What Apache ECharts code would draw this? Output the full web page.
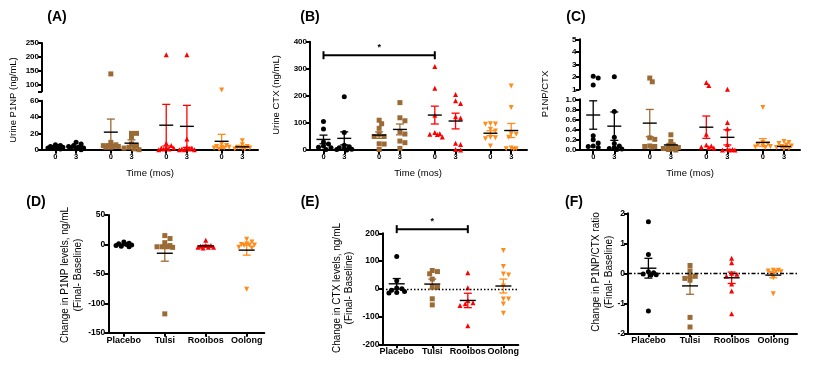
<!DOCTYPE html>
<html><head><meta charset="utf-8">
<script src="https://cdn.jsdelivr.net/npm/echarts@6/dist/echarts.min.js"></script>
<style>html,body{margin:0;padding:0;background:#fff;}#c{width:826px;height:371px;}</style>
</head><body><div id="c"></div>
<script>
// ---------------- DATA ----------------
const groups = ['Placebo', 'Tulsi', 'Rooibos', 'Oolong'];
const times = ['0', '3'];

// Panel A: Urine P1NP (ng/mL), rows = groups
const p1np0 = [[6,5,4,4,3,3,2,2,1],[138,9,6,5,5,4,4,3,3],[207,8,5,3,2,2,1,1,0],[80,7,5,4,3,3,2,2,1]];
const p1np3 = [[9,7,5,4,3,2,2,1,0],[20,20,15,7,5,3,2,1,0],[207,13,3,2,1,1,0,0,0],[11,6,4,3,2,2,1,1]];
const p1npMean0 = [3.3, 21.5, 30, 10.3];
const p1npSem0 = [0.6, 16, 25.5, 8.5];
const p1npMean3 = [3.5, 8, 28.6, 3.5];
const p1npSem3 = [1.0, 4, 25.7, 1.2];
const p1npUpperTicks = [100, 150, 200, 250];

// Panel B: Urine CTX (ng/mL)
const ctx0 = [[105,78,30,22,15,10,8,2],[110,97,80,58,50,50,23,22,2],[308,228,128,65,60,58,57,48],[97,96,95,77,70,47,45,42,15]];
const ctx3 = [[197,65,18,12,8,5,3,2,0],[175,119,108,68,59,33,27,6],[205,182,172,123,118,25,20,2,0],[236,157,60,58,47,7,5,5,3]];
const ctxMean0 = [39, 55, 129, 62];
const ctxSem0 = [16, 12, 33, 9];
const ctxMean3 = [43, 76, 107, 72];
const ctxSem3 = [24, 20, 29, 26];
const ctxSig = [0, 2, 350];   // from group (month 0) to group (month 0) at value, "*"

// Panel C: P1NP/CTX
const ratio0 = [[2.05,1.9,1.35,0.28,0.2,0.14,0.08,0.07,0.05],[1.9,1.6,0.24,0.21,0.08,0.07,0.07,0.06],[1.55,1.3,0.31,0.1,0.08,0.06,0.05,0.04],[0.84,0.15,0.12,0.1,0.08,0.07,0.06,0.05]];
const ratio3 = [[2.0,0.76,0.25,0.13,0.08,0.05,0.03,0.02,0.01],[0.3,0.17,0.1,0.08,0.05,0.03,0.02,0.01,0.0],[1.0,0.54,0.42,0.11,0.02,0.01,0.0,0.0,0.0],[0.17,0.15,0.13,0.1,0.08,0.07,0.05,0.03,0.02]];
const ratioMean0 = [0.69, 0.53, 0.45, 0.15];
const ratioSem0 = [0.28, 0.27, 0.22, 0.075];
const ratioMean3 = [0.47, 0.1, 0.25, 0.07];
const ratioSem3 = [0.28, 0.03, 0.15, 0.025];

// Panel D: change in P1NP
const dP1np = [[4,2,1,0,-1,-2,-3,-4],[15,10,3,-2,-4,-4,-4,-5,-118],[7,-2,-2,-3,-5,-5,-5,-6],[9,4,1,0,-1,-1,-2,-5,-6,-76]];
const dP1npMean = [-0.4, -15, -2.5, -9.7];
const dP1npSem = [1, 13.5, 1.3, 8.5];

// Panel E: change in CTX
const dCtx = [[116,29,3,0,-5,-10,-13,-15],[66,62,54,35,8,5,-36,-58],[58,4,-42,-50,-54,-60,-133],[138,80,53,50,10,-37,-37,-55,-88]];
const dCtxMean = [18, 17, -42, 10];
const dCtxSem = [19, 18, 26, 25];
const dCtxSig = [0, 2, 215];

// Panel F: change in P1NP/CTX ratio
const dRatio = [[1.72,0.63,0.05,0.02,-0.02,-0.05,-0.06,-1.26],[0.26,0.08,-0.08,-0.1,-0.17,-0.23,-1.47,-1.79],[0.5,0.35,0.0,-0.03,-0.09,-0.36,-0.59,-1.35],[0.1,0.1,0.08,0.05,0.05,0.0,-0.15,-0.68]];
const dRatioMean = [0.17, -0.42, -0.15, -0.06];
const dRatioSem = [0.33, 0.28, 0.19, 0.09];

// ---------------- STYLE / LAYOUT ----------------
const FONT = '"Liberation Sans", Arial, sans-serif';
const colors = ['#000000', '#9C6A35', '#FF0000', '#FF8C1A'];
const symbols = ['circle', 'rect', 'triangle', 'triangle'];
const symRot = [0, 0, 0, 180];
const symSize = [5, 5, 5, 5];
const PAIR = 2.68;
const TOPX = [-0.65, 9.8];

const L = {
  Aup: {l: 42, t: 43, w: 216, h: 48.3},
  Alo: {l: 42, t: 100.7, w: 216, h: 49},
  B: {l: 310, t: 41.7, w: 217, h: 108.3},
  Cup: {l: 579.5, t: 39.3, w: 220.5, h: 50},
  Clo: {l: 579.5, t: 99.3, w: 220.5, h: 50.7},
  D: {l: 108.3, t: 215, w: 156, h: 117.7, x: [-0.38, 3.43]},
  E: {l: 382.5, t: 233.3, w: 135.8, h: 111, x: [-0.40, 3.42]},
  F: {l: 628, t: 213.3, w: 169, h: 120, x: [-0.49, 3.57]}
};

const grids = [], xAxes = [], yAxes = [], series = [], graphics = [];

// horizontal spreading of overlapping points (scatter-dot-plot style), limited width
function swarm(values, cx, pxX, pxY, size, maxOff) {
  const idx = values.map((v, i) => i).sort((a, b) => values[b] - values[a]);
  const placed = [], out = [];
  const step = size * 0.5, need = size * 0.8;
  for (const i of idx) {
    const py = values[i] * pxY;
    let best = 0, bestD = -1;
    for (let n = 0; n < 60; n++) {
      const o = n === 0 ? 0 : (n % 2 === 1 ? 1 : -1) * Math.ceil(n / 2) * step;
      if (Math.abs(o) > maxOff) break;
      const d = placed.length ? Math.min(...placed.map(p => Math.hypot(p.x - o, p.y - py))) : 1e9;
      if (d >= need) { best = o; bestD = d; break; }
      if (d > bestD) { bestD = d; best = o; }
    }
    placed.push({x: best, y: py});
    out.push([cx + best / pxX, values[i]]);
  }
  return out;
}

function addGrid(g) {
  grids.push({left: g.l, top: g.t, width: g.w, height: g.h, containLabel: false, outerBoundsMode: 'none'});
  return grids.length - 1;
}

function xAxisCfg(gi, min, max, show, ticks, fn, fs) {
  return {type: 'value', gridIndex: gi, min, max, show, position: 'bottom',
    axisLine: {show: true, onZero: false, lineStyle: {color: '#000', width: 2}},
    axisTick: {show: true, length: 4, customValues: ticks, lineStyle: {color: '#000', width: 2}},
    axisLabel: {show: true, customValues: ticks, formatter: fn, fontSize: fs, fontWeight: 'bold', color: '#000', fontFamily: FONT, margin: 3},
    splitLine: {show: false}};
}
function yAxisCfg(gi, min, max, interval, fs, tickVals, labelVals, fmt) {
  const a = {type: 'value', gridIndex: gi, min, max, position: 'left',
    axisLine: {show: true, onZero: false, lineStyle: {color: '#000', width: 2}},
    axisTick: {show: true, length: 4, lineStyle: {color: '#000', width: 2}},
    axisLabel: {fontSize: fs, fontWeight: 'bold', color: '#000', fontFamily: FONT, margin: 3},
    splitLine: {show: false}};
  if (interval != null) a.interval = interval;
  if (tickVals) a.axisTick.customValues = tickVals;
  if (labelVals) a.axisLabel.customValues = labelVals;
  if (fmt) a.axisLabel.formatter = fmt;
  return a;
}

function meanSeries(gi, data, meanHalf, capHalf) {
  return {type: 'custom', xAxisIndex: gi, yAxisIndex: gi, silent: true, z: 5, clip: false,
    encode: {x: 0, y: 1},
    data,
    renderItem(params, api) {
      const x = api.value(0), m = api.value(1), s = api.value(2), c = colors[api.value(3)];
      const p = api.coord([x, m]), hi = api.coord([x, m + s]), lo = api.coord([x, m - s]);
      const st = {stroke: c, lineWidth: 1.3};
      return {type: 'group', children: [
        {type: 'line', shape: {x1: p[0], y1: hi[1], x2: p[0], y2: lo[1]}, style: st},
        {type: 'line', shape: {x1: p[0] - capHalf, y1: hi[1], x2: p[0] + capHalf, y2: hi[1]}, style: st},
        {type: 'line', shape: {x1: p[0] - capHalf, y1: lo[1], x2: p[0] + capHalf, y2: lo[1]}, style: st},
        {type: 'line', shape: {x1: p[0] - meanHalf, y1: p[1], x2: p[0] + meanHalf, y2: p[1]}, style: {stroke: '#000', lineWidth: 1.4}}
      ]};
    }};
}

function sigSeries(gi, x1, x2, y) {
  return {type: 'custom', xAxisIndex: gi, yAxisIndex: gi, silent: true, z: 6, clip: false,
    encode: {x: 0, y: 2}, data: [[x1, x2, y]],
    renderItem(params, api) {
      const a = api.coord([api.value(0), api.value(2)]), b = api.coord([api.value(1), api.value(2)]);
      const st = {stroke: '#000', lineWidth: 2};
      return {type: 'group', children: [
        {type: 'line', shape: {x1: a[0], y1: a[1], x2: b[0], y2: b[1]}, style: st},
        {type: 'line', shape: {x1: a[0], y1: a[1] - 4, x2: a[0], y2: a[1] + 4}, style: st},
        {type: 'line', shape: {x1: b[0], y1: b[1] - 4, x2: b[0], y2: b[1] + 4}, style: st},
        {type: 'text', style: {text: '*', x: (a[0] + b[0]) / 2, y: a[1] - 3, align: 'center', verticalAlign: 'bottom', fontSize: 9, fontWeight: 'bold', fontFamily: FONT, fill: '#000'}}
      ]};
    }};
}

function scatter(gi, data, g) {
  return {type: 'scatter', xAxisIndex: gi, yAxisIndex: gi, data, symbol: symbols[g], symbolSize: symSize[g],
    symbolRotate: symRot[g], itemStyle: {color: colors[g], opacity: 1}, silent: true, z: 3, clip: false};
}

// top panel tick positions
const topTicks = [], topTickText = [];
for (let g = 0; g < 4; g++) for (let t = 0; t < 2; t++) { topTicks.push(g * PAIR + t); topTickText.push(times[t]); }
const topFmt = v => { let bi = 0; topTicks.forEach((p, i) => { if (Math.abs(p - v) < Math.abs(topTicks[bi] - v)) bi = i; }); return topTickText[bi]; };
const botTicks = [0, 1, 2, 3];
const botFmt = v => groups[Math.round(v)];

function buildTop(lo, loY, up, upY, split, vals, means, sems) {
  const gLo = addGrid(lo);
  xAxes.push(xAxisCfg(gLo, TOPX[0], TOPX[1], true, topTicks, topFmt, 7.5));
  yAxes.push(loY.axis(gLo));
  let gUp = null;
  if (up) {
    gUp = addGrid(up);
    xAxes.push(xAxisCfg(gUp, TOPX[0], TOPX[1], false, topTicks, topFmt, 7.5));
    yAxes.push(upY.axis(gUp));
  }
  const pxX = lo.w / (TOPX[1] - TOPX[0]);
  const md = [];
  for (let t = 0; t < 2; t++) for (let g = 0; g < 4; g++) {
    const cx = g * PAIR + t;
    const v = vals[t][g];
    const low = v.filter(x => split == null || x < split);
    const hiV = split == null ? [] : v.filter(x => x >= split);
    series.push(scatter(gLo, swarm(low, cx, pxX, lo.h / (loY.max - loY.min), 5, 7.5), g));
    if (hiV.length) series.push(scatter(gUp, swarm(hiV, cx, pxX, up.h / (upY.max - upY.min), 5, 7.5), g));
    md.push([cx, means[t][g], sems[t][g], g]);
  }
  series.push(meanSeries(gLo, md, 7, 4));
  return gLo;
}

function buildBottom(box, yMin, yMax, yInt, vals, means, sems) {
  const gi = addGrid(box);
  xAxes.push(xAxisCfg(gi, box.x[0], box.x[1], true, botTicks, botFmt, 9));
  yAxes.push(yAxisCfg(gi, yMin, yMax, yInt, 8.5));
  const pxX = box.w / (box.x[1] - box.x[0]);
  const md = [];
  for (let g = 0; g < 4; g++) {
    series.push(scatter(gi, swarm(vals[g], g, pxX, box.h / (yMax - yMin), 5.2, 8.5), g));
    md.push([g, means[g], sems[g], g]);
  }
  series.push(meanSeries(gi, md, 8, 4));
  return gi;
}

// Panel A
buildTop(L.Alo, {min: 0, max: 60, axis: gi => yAxisCfg(gi, 0, 60, 20, 8)},
  L.Aup, {min: 75, max: 250, axis: gi => yAxisCfg(gi, 75, 250, null, 8, [75].concat(p1npUpperTicks), p1npUpperTicks)},
  60, [p1np0, p1np3], [p1npMean0, p1npMean3], [p1npSem0, p1npSem3]);
// Panel B
const gB = buildTop(L.B, {min: 0, max: 400, axis: gi => yAxisCfg(gi, 0, 400, 100, 8)}, null, null, null,
  [ctx0, ctx3], [ctxMean0, ctxMean3], [ctxSem0, ctxSem3]);
series.push(sigSeries(gB, ctxSig[0] * PAIR, ctxSig[1] * PAIR, ctxSig[2]));
// Panel C
buildTop(L.Clo, {min: 0, max: 1, axis: gi => yAxisCfg(gi, 0, 1, 0.2, 8, null, null, v => v.toFixed(1))},
  L.Cup, {min: 1, max: 5, axis: gi => yAxisCfg(gi, 1, 5, 1, 8)},
  1, [ratio0, ratio3], [ratioMean0, ratioMean3], [ratioSem0, ratioSem3]);
// Panel D
buildBottom(L.D, -150, 50, 50, dP1np, dP1npMean, dP1npSem);
// Panel E
const gE = buildBottom(L.E, -200, 200, 100, dCtx, dCtxMean, dCtxSem);
series.push(sigSeries(gE, dCtxSig[0], dCtxSig[1], dCtxSig[2]));
series.push({type: 'line', xAxisIndex: gE, yAxisIndex: gE, data: [], silent: true,
  markLine: {symbol: 'none', silent: true, label: {show: false}, animation: false,
    lineStyle: {color: '#000', width: 1.4, type: [1.5, 2]}, data: [{yAxis: 0}]}});
// Panel F
const gF = buildBottom(L.F, -2, 2, 1, dRatio, dRatioMean, dRatioSem);
series.push({type: 'line', xAxisIndex: gF, yAxisIndex: gF, data: [], silent: true,
  markLine: {symbol: 'none', silent: true, label: {show: false}, animation: false,
    lineStyle: {color: '#000', width: 1.3, type: [4, 2, 1.5, 2]}, data: [{yAxis: 0}]}});

// ---------------- TEXT ----------------
function txt(text, x, y, size, bold, rot, lh) {
  graphics.push({type: 'text', x, y, rotation: rot ? Math.PI / 2 : 0, silent: true,
    style: {text, fill: '#000', fontSize: size, fontWeight: bold ? 'bold' : 'normal', fontFamily: FONT,
      align: 'center', verticalAlign: 'middle', lineHeight: lh || size * 1.2}});
}
txt('(A)', 57, 17, 14, true); txt('(B)', 310, 17, 14, true); txt('(C)', 576, 17, 14, true);
txt('(D)', 36, 202, 14, true); txt('(E)', 310, 202, 14, true); txt('(F)', 574, 202, 14, true);
txt('Urine P1NP (ng/mL)', 13, 100, 9.5, false, true);
txt('Urine CTX (ng/mL)', 276, 95, 9.5, false, true);
txt('P1NP/CTX', 545, 94, 9.5, false, true);
txt('Time (mos)', 150, 173.5, 9.5, false);
txt('Time (mos)', 418, 173.5, 9.5, false);
txt('Time (mos)', 690, 173.5, 9.5, false);
txt('Change in P1NP levels, ng/mL\n(Final- Baseline)', 71.5, 275, 10, false, true, 12.7);
txt('Change in CTX levels, ng/mL\n(Final- Baseline)', 343, 288, 10, false, true, 11.5);
txt('Change in P1NP/CTX ratio\n(Final- Baseline)', 602.5, 272, 10, false, true, 13);

const chart = echarts.init(document.getElementById('c'), null, {renderer: 'canvas', width: 826, height: 371});
chart.setOption({
  animation: false,
  backgroundColor: '#ffffff',
  grid: grids, xAxis: xAxes, yAxis: yAxes, series, graphic: graphics
});
</script>
</body></html>
